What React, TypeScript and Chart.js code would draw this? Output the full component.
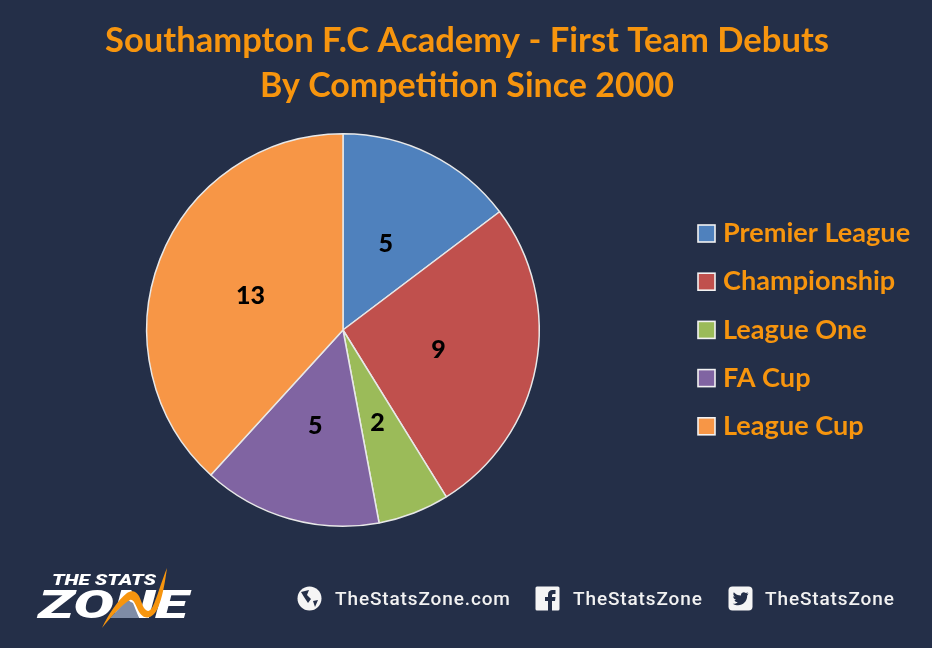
import React, { useEffect, useRef } from "react";
import { Chart, registerables } from "chart.js";

Chart.register(...registerables);

const categories = ["Premier League", "Championship", "League One", "FA Cup", "League Cup"];
const debuts = [5, 9, 2, 5, 13];
const sliceColors = ["#4F81BD", "#C0504D", "#9BBB59", "#8064A2", "#F79646"];
const titleLines = ["Southampton F.C Academy - First Team Debuts", "By Competition Since 2000"];

const BG = "#242F48";
const ORANGE = "#F7950E";
const FONT = "Lato, Carlito, sans-serif";

const pieLabels = {
  id: "pieLabels",
  afterDatasetsDraw(chart: any) {
    const { ctx } = chart;
    ctx.save();
    ctx.font = `900 25px ${FONT}`;
    ctx.fillStyle = "#000";
    ctx.textAlign = "center";
    ctx.textBaseline = "middle";
    chart.getDatasetMeta(0).data.forEach((arc: any, i: number) => {
      const p = arc.tooltipPosition();
      ctx.fillText(String(debuts[i]), p.x - 1, p.y + 1.5);
    });
    ctx.restore();
  },
};

const sideLegend = {
  id: "sideLegend",
  afterDraw(chart: any) {
    const { ctx } = chart;
    ctx.save();
    categories.forEach((c, i) => {
      const y = 233.5 + i * 48.2;
      ctx.fillStyle = sliceColors[i];
      ctx.strokeStyle = "#F2F2F2";
      ctx.lineWidth = 1.6;
      ctx.fillRect(698, y - 8.5, 17, 17);
      ctx.strokeRect(698, y - 8.5, 17, 17);
      ctx.fillStyle = ORANGE;
      ctx.font = `bold 27.1px ${FONT}`;
      ctx.textAlign = "left";
      ctx.textBaseline = "middle";
      ctx.fillText(c, 723, y);
    });
    ctx.restore();
  },
};

const titlePlugin = {
  id: "titleLines",
  afterDraw(chart: any) {
    const { ctx } = chart;
    ctx.save();
    ctx.fillStyle = ORANGE;
    ctx.textAlign = "center";
    ctx.textBaseline = "middle";
    ctx.font = `bold 34.6px ${FONT}`;
    ctx.fillText(titleLines[0], 467, 41);
    ctx.font = `bold 34px ${FONT}`;
    ctx.fillText(titleLines[1], 467, 86);
    ctx.restore();
  },
};

const footText: React.CSSProperties = {
  position: "absolute",
  top: 587,
  color: "#F2F2F2",
  font: "500 19px Roboto, sans-serif",
  letterSpacing: "0.87px",
  lineHeight: "24px",
  whiteSpace: "nowrap",
};

function Footer() {
  return (
    <>
      <svg style={{ position: "absolute", left: 30, top: 560, width: 170, height: 75 }} viewBox="0 0 170 75">
        <text x="22" y="25" fill="#fff" fontFamily="Roboto, sans-serif" fontWeight="900" fontStyle="italic" fontSize="14.5" textLength="104" lengthAdjust="spacingAndGlyphs">THE STATS</text>
        <text x="8" y="58" fill="#fff" fontFamily="Roboto, sans-serif" fontWeight="900" fontStyle="italic" fontSize="38" textLength="150" lengthAdjust="spacingAndGlyphs">ZONE</text>
        <path d="M80 58 L97 40 L103 43 L109 58 Z" fill="#7F8CA6" />
        <path d="M72 68 C78 55 88 40 97 33 C102 30 106 31 109 36 C112 42 113 50 118 51 C124 51 128 30 137 8 C134 30 130 48 124 54 C118 60 112 58 108 50 C105 43 103 39 100 40 C92 44 80 58 72 68 Z" fill={ORANGE} />
      </svg>
      <svg style={{ position: "absolute", left: 297, top: 586, width: 25, height: 25 }} viewBox="0 0 25 25">
        <circle cx="12.5" cy="12.5" r="12" fill="#F5F5F5" />
        <path d="M4 6 L12 4 L10 9 L14 13 L11 17 L7 11 Z M16 15 L21 14 L18 21 Z" fill={BG} />
      </svg>
      <div style={{ ...footText, left: 335 }}>TheStatsZone.com</div>
      <svg style={{ position: "absolute", left: 535, top: 586, width: 25, height: 25 }} viewBox="0 0 25 25">
        <rect x="0.5" y="0.5" width="24" height="24" rx="1.5" fill="#F5F5F5" />
        <path d="M13 25 V15 H10 V11 H13 V8.5 C13 5.5 15 4 17.5 4 H20.5 V8 H18.5 C17.5 8 17 8.5 17 9.5 V11 H20.5 L20 15 H17 V25 Z" fill={BG} />
      </svg>
      <div style={{ ...footText, left: 573 }}>TheStatsZone</div>
      <svg style={{ position: "absolute", left: 728, top: 586, width: 25, height: 25 }} viewBox="0 0 25 25">
        <rect x="0.5" y="0.5" width="24" height="24" rx="4" fill="#F5F5F5" />
        <path d="M20.5 7.5 C19.8 7.8 19.2 8 18.5 8 C19.2 7.5 19.7 7 20 6.2 C19.3 6.6 18.6 6.9 17.8 7 C16.2 5.3 13 6.3 13 8.8 V9.6 C10 9.5 7.5 8.2 5.8 6.2 C4.9 7.8 5.4 9.7 6.8 10.7 C6.2 10.7 5.7 10.5 5.2 10.3 C5.2 12 6.4 13.4 8 13.8 C7.5 14 7 14 6.5 13.9 C7 15.2 8.2 16.2 9.7 16.2 C8.3 17.3 6.6 17.9 4.8 17.7 C11.5 21.6 19.2 17.6 19.2 9.5 C19.7 8.9 20.2 8.3 20.5 7.5 Z" fill={BG} />
      </svg>
      <div style={{ ...footText, left: 765 }}>TheStatsZone</div>
    </>
  );
}

export default function App() {
  const ref = useRef<HTMLCanvasElement>(null);
  useEffect(() => {
    const chart = new Chart(ref.current!, {
      type: "pie",
      data: {
        labels: categories,
        datasets: [{ data: debuts, backgroundColor: sliceColors, borderColor: "#E8E8E8", borderWidth: 1.5 }],
      },
      options: {
        animation: false,
        responsive: false,
        layout: { padding: { left: 146, right: 392, top: 133, bottom: 121 } },
        plugins: { legend: { display: false }, title: { display: false }, tooltip: { enabled: false } },
      },
      plugins: [pieLabels, sideLegend, titlePlugin],
    });
    return () => chart.destroy();
  }, []);
  return (
    <div style={{ position: "fixed", left: 0, top: 0, width: 932, height: 648, background: BG, overflow: "hidden" }}>
      <canvas ref={ref} width={932} height={648} style={{ display: "block" }} />
      <Footer />
    </div>
  );
}
